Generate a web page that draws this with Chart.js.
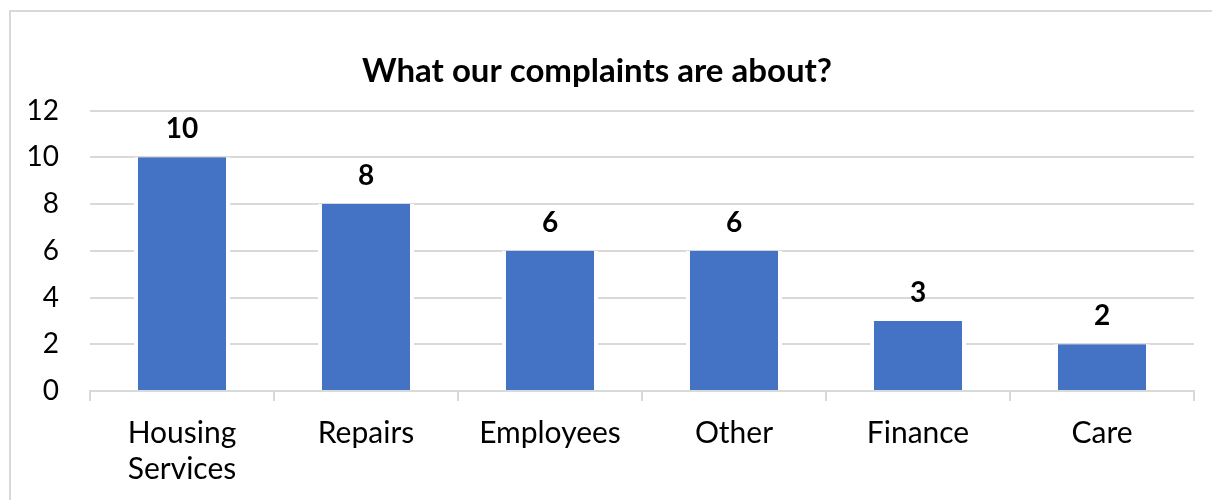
<!DOCTYPE html>
<html>
<head>
<meta charset="utf-8">
<title>What our complaints are about?</title>
<script src="https://cdn.jsdelivr.net/npm/chart.js@4"></script>
<style>
  html, body { margin: 0; padding: 0; background: #fff; overflow: hidden; }
  #frame {
    position: absolute; left: 9px; top: 10px;
    width: 1300px; height: 600px;
    border: 2px solid #d9d9d9; box-sizing: border-box;
  }
  #wrap { position: absolute; left: 0; top: 0; width: 1212px; height: 500px; }
</style>
</head>
<body>
<div id="frame"></div>
<div id="wrap"><canvas id="chart"></canvas></div>
<script>
"use strict";

// ── Data ──────────────────────────────────────────────────────────────────────
const categories = [["Housing", "Services"], "Repairs", "Employees", "Other", "Finance", "Care"];
const complaints = [10, 8, 6, 6, 3, 2];
const yTicks     = [0, 2, 4, 6, 8, 10, 12];

// ── Style ─────────────────────────────────────────────────────────────────────
const FONT   = "Lato, Carlito, Calibri, 'Open Sans', sans-serif";
const BLUE   = "#4472c4";
const GRID   = "#d9d9d9";
const INK    = "#000000";

// Value labels above each bar
const valueLabels = {
  id: "valueLabels",
  afterDatasetsDraw(chart) {
    const ctx  = chart.ctx;
    const meta = chart.getDatasetMeta(0);
    ctx.save();
    ctx.font = `bold 28px ${FONT}`;
    ctx.fillStyle = INK;
    ctx.textAlign = "center";
    ctx.textBaseline = "middle";
    meta.data.forEach((bar, i) => {
      ctx.fillText(String(complaints[i]), bar.x, bar.y - 28);
    });
    ctx.restore();
  },
};

new Chart(document.getElementById("chart"), {
  type: "bar",
  data: {
    labels: categories,
    datasets: [{
      data:            complaints,
      backgroundColor: BLUE,
      borderColor:     "#ffffff",
      borderWidth:     { left: 4, right: 4, top: 0, bottom: 0 },
      borderSkipped:   false,
      barPercentage:   0.522,
      categoryPercentage: 1,
    }],
  },
  options: {
    responsive: true,
    maintainAspectRatio: false,
    animation: false,
    layout: { padding: { left: 0, right: 18, top: 0, bottom: 0 } },
    plugins: {
      legend:  { display: false },
      tooltip: { enabled: false },
      title: {
        display: true,
        text: "What our complaints are about?",
        color: INK,
        font: { family: FONT, size: 33, weight: "bold", lineHeight: 1.2 },
        padding: { top: 52, bottom: 19 },
      },
    },
    scales: {
      x: {
        border: { display: true, color: GRID, width: 2 },
        grid: {
          offset: true,
          drawOnChartArea: false,
          drawTicks: true,
          tickLength: 10,
          color: GRID,
          lineWidth: 2,
        },
        ticks: {
          color: INK,
          padding: 14,
          maxRotation: 0,
          font: { family: FONT, size: 30, lineHeight: 1.2 },
        },
        afterFit(scale) { scale.height = 109; },
      },
      y: {
        min: 0,
        max: yTicks[yTicks.length - 1],
        border: { display: false },
        grid: { color: GRID, lineWidth: 2, drawTicks: false },
        ticks: {
          stepSize: yTicks[1] - yTicks[0],
          color: INK,
          padding: 31,
          font: { family: FONT, size: 28 },
        },
        afterFit(scale) { scale.width = 90; },
      },
    },
  },
  plugins: [valueLabels],
});
</script>
</body>
</html>
